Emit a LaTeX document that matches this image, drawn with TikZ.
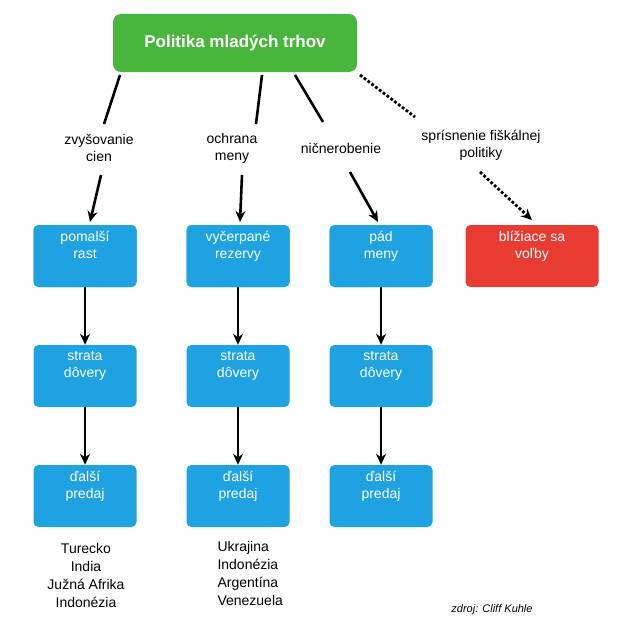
\documentclass[tikz,border=0pt]{standalone}
\usepackage{fontspec}
\setmainfont{Liberation Sans}
\usetikzlibrary{arrows.meta}
\begin{document}
\begin{tikzpicture}[x=1pt,y=-1pt,
 box/.style={fill=bl,rounded corners=5pt,minimum width=103pt,minimum height=62pt,text=white,font=\fontsize{14}{17}\selectfont,align=center,inner sep=0pt},
 lab/.style={font=\fontsize{14}{17}\selectfont,align=center},
 ar/.style={line width=2.6pt,-{Stealth[length=11pt,width=10pt]}},
 ln/.style={line width=2.6pt},
 dt/.style={line width=2.8pt,dotted}]
\definecolor{bl}{RGB}{30,162,226}\definecolor{rd}{RGB}{232,60,50}\definecolor{gr}{RGB}{72,182,60}
\useasboundingbox (0,0) rectangle (620,634);
\node[fill=gr,rounded corners=8pt,minimum width=244pt,minimum height=58pt,text=white,font=\fontsize{17}{20}\selectfont\bfseries] (top) at (235,43) {Politika mladých trhov};
\foreach \c/\x in {1/85,2/238,3/381}{
 \node[box] (a\c) at (\x,256) {};
 \node[box] (b\c) at (\x,376) {strata\\dôvery\\[6pt]};
 \node[box] (c\c) at (\x,496) {ďalší\\predaj\\[6pt]};
 \draw[ar] (a\c) -- (b\c); \draw[ar] (b\c) -- (c\c);}
\node[box] at (a1) {pomalší\\rast\\[6pt]};
\node[box] at (a2) {vyčerpané\\rezervy\\[6pt]};
\node[box] at (a3) {pád\\meny\\[6pt]};
\node[box,fill=rd,minimum width=133pt] (r) at (532,256) {blížiace sa\\voľby\\[6pt]};
\node[lab] (l1) at (99,148) {zvyšovanie\\cien};
\node[lab] (l2) at (232,148) {ochrana\\meny};
\node[lab] (l3) at (341,148) {ničnerobenie};
\node[lab] (l4) at (481,145) {sprísnenie fiškálnej\\politiky};
\coordinate (p1) at (120,75);\coordinate (q1) at (104,124);
\coordinate (s1) at (101,175);
\draw[ln] (p1) -- (q1); \draw[ar] (s1) -- (90,222);
\coordinate (p2) at (262,75);\coordinate (q2) at (256,124);\coordinate (s2) at (242,175);
\draw[ln] (p2) -- (q2); \draw[ar] (s2) -- (240,222);
\coordinate (p3) at (295,75);\coordinate (q3) at (323,122);\coordinate (s3) at (350,172);
\draw[ln] (p3) -- (q3); \draw[ar] (s3) -- (378,222);
\coordinate (p4) at (360,75);\coordinate (q4) at (415,117);\coordinate (s4) at (480,172);
\draw[dt] (p4) -- (q4); \draw[dt,-{Stealth[length=11pt,width=10pt]}] (s4) -- (532,220);
\node[lab,font=\fontsize{14}{18}\selectfont] (t1) at (86,575) {Turecko\\India\\Južná Afrika\\Indonézia};
\node[lab,font=\fontsize{14}{18}\selectfont,align=left,anchor=west] (t2) at (214,573) {Ukrajina\\Indonézia\\Argentína\\Venezuela};
\node[font=\itshape\fontsize{11}{13}\selectfont] (z) at (492,610) {zdroj: Cliff Kuhle};
\end{tikzpicture}
\end{document}
